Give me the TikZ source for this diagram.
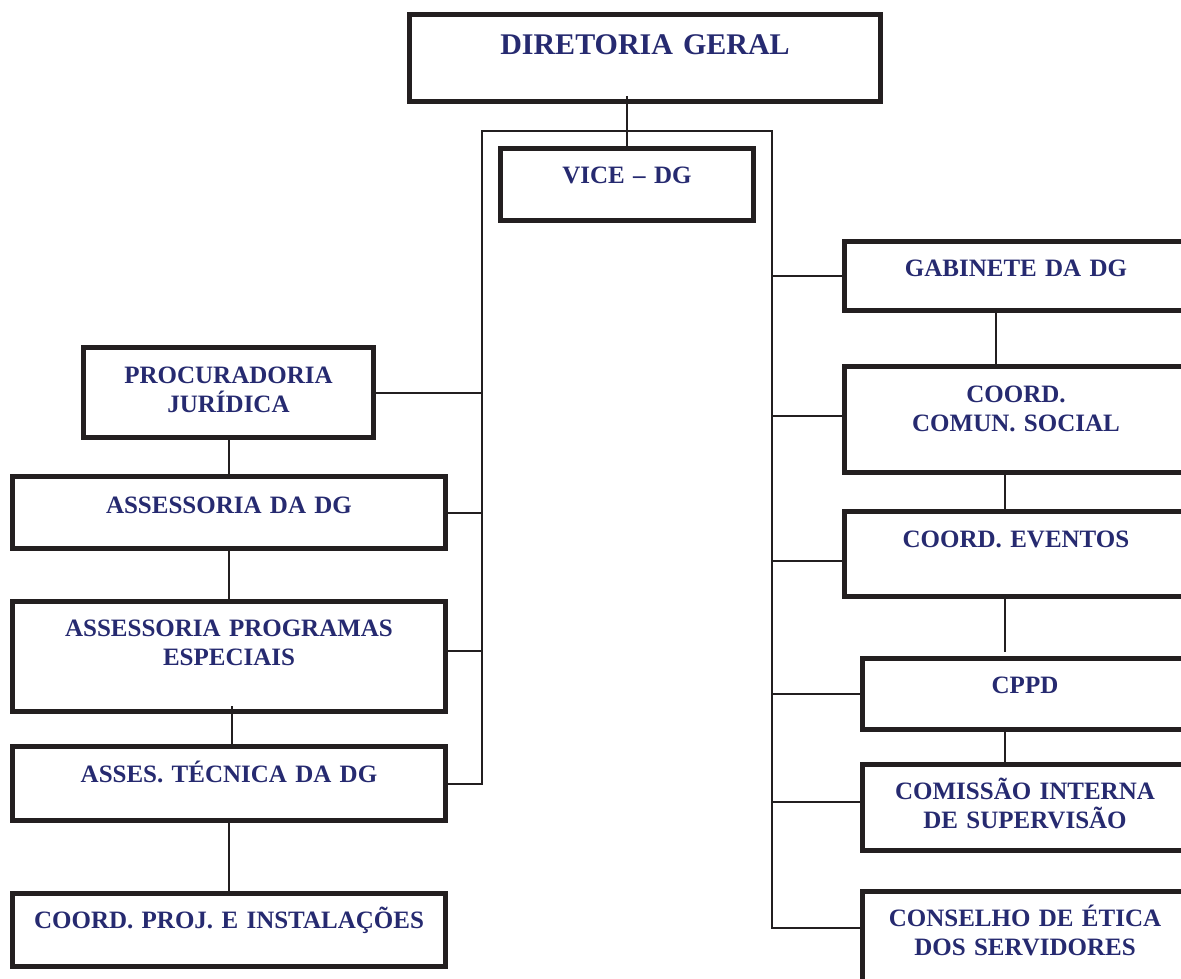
\documentclass[tikz,border=0pt]{standalone}
\usepackage{fontspec}
\setmainfont{Liberation Serif}
\usetikzlibrary{calc}
\definecolor{inknavy}{RGB}{38,42,112}
\definecolor{inkline}{RGB}{35,31,32}
\begin{document}
\begin{tikzpicture}[x=1pt,y=-1pt,
  unit/.style={draw=inkline,line width=5pt,rectangle,inner sep=0pt,fill=white},
  conn/.style={draw=inkline,line width=2pt},
  lbl/.style={anchor=base,text=inknavy,align=center,text width=420pt,inner sep=0pt,
    font=\bfseries\fontsize{25}{29}\selectfont},
  toplbl/.style={lbl,font=\bfseries\fontsize{30}{34}\selectfont}]
\useasboundingbox (0,0) rectangle (1181,978);
\clip (0,0) rectangle (1181,978);

% frame of the direct line below the Diretoria Geral
\coordinate (ftl) at (482,131);
\coordinate (ftr) at (772,131);

% units
\node[unit,minimum width=471pt,minimum height=87pt] (dg) at (645,58) {};
\node[unit,minimum width=253pt,minimum height=72pt] (vice) at (627,184.5) {};
\node[unit,minimum width=290pt,minimum height=90pt] (proc) at (228.5,392.5) {};
\node[unit,minimum width=433pt,minimum height=72pt] (asdg) at (229,512.5) {};
\node[unit,minimum width=433pt,minimum height=110pt] (aspe) at (229,656.5) {};
\node[unit,minimum width=433pt,minimum height=74pt] (astec) at (229,783.5) {};
\node[unit,minimum width=433pt,minimum height=73pt] (proj) at (229,930) {};
\node[unit,minimum width=343pt,minimum height=69pt] (gab) at (1016,276) {};
\node[unit,minimum width=343pt,minimum height=106pt] (comun) at (1016,419.5) {};
\node[unit,minimum width=343pt,minimum height=85pt] (event) at (1016,554) {};
\node[unit,minimum width=325pt,minimum height=71pt] (cppd) at (1025,694) {};
\node[unit,minimum width=325pt,minimum height=86pt] (cis) at (1025,807.5) {};
\node[unit,minimum width=325pt,minimum height=106pt] (etica) at (1025,944.5) {};

% labels
\node[toplbl] (dg-t) at (645,54) {DIRETORIA GERAL};
\node[lbl] (vice-t) at (627,183) {VICE – DG};
\node[lbl] (proc-t) at (228.5,383) {PROCURADORIA\\JURÍDICA};
\node[lbl] (asdg-t) at (229,513) {ASSESSORIA DA DG};
\node[lbl] (aspe-t) at (229,636) {ASSESSORIA PROGRAMAS\\ESPECIAIS};
\node[lbl] (astec-t) at (229,782) {ASSES. TÉCNICA DA DG};
\node[lbl] (proj-t) at (229,928) {COORD. PROJ. E INSTALAÇÕES};
\node[lbl] (gab-t) at (1016,276) {GABINETE DA DG};
\node[lbl] (comun-t) at (1016,402) {COORD.\\COMUN. SOCIAL};
\node[lbl] (event-t) at (1016,547) {COORD. EVENTOS};
\node[lbl] (cppd-t) at (1025,693) {CPPD};
\node[lbl] (cis-t) at (1025,799) {COMISSÃO INTERNA\\DE SUPERVISÃO};
\node[lbl] (etica-t) at (1025,926) {CONSELHO DE ÉTICA\\DOS SERVIDORES};

% connection points slightly off the box centres
\coordinate (dgin) at ($(vice.north |- dg.south)+(0,-8.5)$);
\coordinate (aspeR) at ($(aspe.east)+(0,-5.5)$);
\coordinate (aspeB) at ($(astec.north)+(3,-38.5)$);
\coordinate (asteT) at ($(astec.north)+(3,0)$);
\coordinate (comunL) at ($(comun.west)+(0,-3.5)$);
\coordinate (eventL) at ($(event.west)+(0,7)$);
\coordinate (cisL) at ($(cis.west)+(0,-5.5)$);
\coordinate (eticaL) at ($(etica.north west)+(0,38.5)$);
\coordinate (gabB) at ($(gab.south west)+(153.5,0)$);
\coordinate (comunB) at ($(comun.south west)+(162.5,0)$);
\coordinate (eventB) at ($(event.south west)+(162.5,0)$);
\coordinate (cppdT) at ($(cppd.north west)+(144.5,-4)$);
\coordinate (cppdB) at ($(cppd.south west)+(144.5,0)$);

% Diretoria Geral to Vice-DG
\draw[conn] (vice.north) -- (dgin);
% frame: left and right spines
\draw[conn] (astec.east) -| (ftl) -- (ftr) |- (eticaL);
% left branches
\draw[conn] (proc.east) -- (proc.east -| ftl);
\draw[conn] (asdg.east) -- (asdg.east -| ftl);
\draw[conn] (aspeR) -- (aspeR -| ftl);
% left chain
\draw[conn] (proc.south) -- (proc.south |- asdg.north);
\draw[conn] (asdg.south) -- (asdg.south |- aspe.north);
\draw[conn] (asteT) -- (aspeB);
\draw[conn] (astec.south) -- (astec.south |- proj.north);
% right branches
\draw[conn] (gab.west) -- (gab.west -| ftr);
\draw[conn] (comunL) -- (comunL -| ftr);
\draw[conn] (eventL) -- (eventL -| ftr);
\draw[conn] (cppd.west) -- (cppd.west -| ftr);
\draw[conn] (cisL) -- (cisL -| ftr);
% right chain
\draw[conn] (gabB) -- (gabB |- comun.north);
\draw[conn] (comunB) -- (comunB |- event.north);
\draw[conn] (eventB) -- (cppdT);
\draw[conn] (cppdB) -- (cppdB |- cis.north);
\end{tikzpicture}
\end{document}
